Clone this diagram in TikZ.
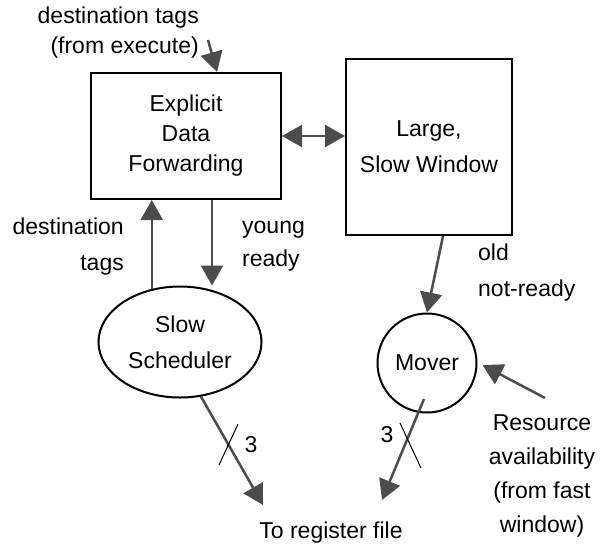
\documentclass[tikz,border=0pt]{standalone}
\usepackage{fontspec}
\setmainfont{Liberation Sans}
\usetikzlibrary{positioning, arrows.meta, shapes.geometric}

\begin{document}
\begin{tikzpicture}[
    x=1pt, y=-1pt,
    font=\fontsize{23}{30}\selectfont,
    % plain outlined units
    unitbox/.style={
        rectangle,
        draw=black,
        line width=2pt,
        align=center,
        inner sep=0pt
    },
    blob/.style={draw=black, line width=2pt, align=center, inner sep=0pt},
    lbl/.style={align=center, inner sep=0pt},
    flow/.style={-{Triangle[length=20pt, width=22pt]}, line width=2.5pt, black!70},
    tick/.style={line width=1pt, black}
]
    \useasboundingbox (0,0) rectangle (605,550);

    % Nodes
    \node[unitbox, minimum width=190pt, minimum height=126pt] (fwd) at (186,136) {Explicit\\Data\\Forwarding};
    \node[unitbox, minimum width=166pt, minimum height=176pt, font=\fontsize{23}{36}\selectfont] (win) at (429,147) {Large,\\Slow Window};

    \node[blob, ellipse, minimum width=163pt, minimum height=111pt, font=\fontsize{23}{36}\selectfont] (sched) at (180,342) {Slow\\Scheduler};
    \node[blob, circle, minimum size=99pt] (mover) at (427,363) {Mover};

    % Labels
    \node[lbl, align=right, anchor=east] (tagsin) at (199,33) {destination tags\\(from execute)};
    \node[lbl, align=right, anchor=east, font=\fontsize{23}{36}\selectfont] (tagsout) at (124,247) {destination\\tags};
    \node[lbl, align=left, anchor=west, font=\fontsize{23}{33}\selectfont] (young) at (242,246) {young\\ready};
    \node[lbl, align=left, anchor=west, font=\fontsize{23}{36}\selectfont] (old) at (478,273) {old\\not-ready};
    \node[lbl, font=\fontsize{23}{34}\selectfont] (res) at (542,476) {Resource\\availability\\(from fast\\window)};
    \node[lbl] (regfile) at (331,533) {To register file};

    \coordinate (tagsin-tail) at (208,40);
    \coordinate (res-tail) at (545,398);
    \coordinate (rf-left) at (263,505);
    \coordinate (rf-right) at (382,500);

    % Edges
    \draw[flow] (tagsin-tail) -- ([xshift=31pt]fwd.north);
    \draw[flow, {Triangle[length=20pt, width=22pt]}-{Triangle[length=20pt, width=22pt]}] (fwd.east) -- (win.west |- fwd.east);
    \draw[flow] (sched.118) -- (sched.118 |- fwd.south);
    \draw[flow] ([xshift=26pt]fwd.south) -- ([xshift=26pt]fwd.south |- sched.north);
    \draw[flow] ([xshift=14pt]win.south) -- (mover.north);
    \draw[flow] (res-tail) -- ([xshift=5pt,yshift=-2pt]mover.east);
    \draw[flow] (sched.-69) -- (rf-left);
    \draw[flow] ([xshift=-3pt,yshift=-36pt]mover.center) -- (rf-right);

    % bus width ticks
    \draw[tick] (219,465) -- (238,424);
    \node[lbl] (busa) at (251,445) {3};
    \draw[tick] (400,423) -- (421,468);
    \node[lbl] (busb) at (387,435) {3};

\end{tikzpicture}
\end{document}
